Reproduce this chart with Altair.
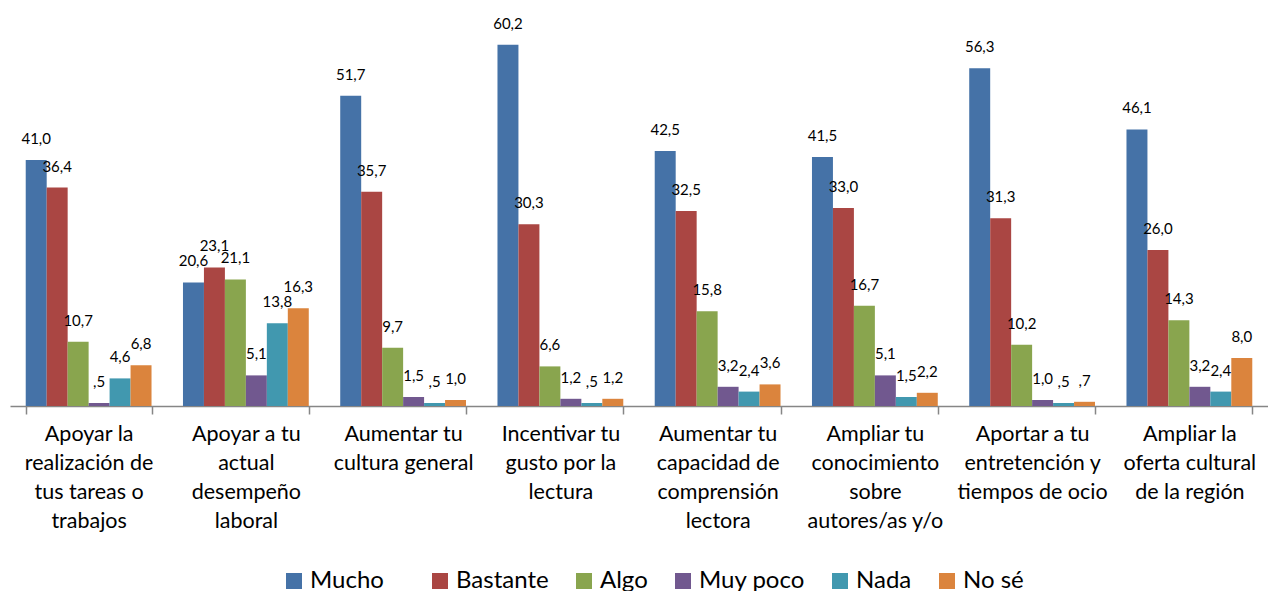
import altair as alt
import pandas as pd

categories = [
    "Apoyar la\nrealización de\ntus tareas o\ntrabajos",
    "Apoyar a tu\nactual\ndesempeño\nlaboral",
    "Aumentar tu\ncultura general",
    "Incentivar tu\ngusto por la\nlectura",
    "Aumentar tu\ncapacidad de\ncomprensión\nlectora",
    "Ampliar tu\nconocimiento\nsobre\nautores/as y/o",
    "Aportar a tu\nentretención y\ntiempos de ocio",
    "Ampliar la\noferta cultural\nde la región",
]
series = ["Mucho", "Bastante", "Algo", "Muy poco", "Nada", "No sé"]
colors = ["#4572A7", "#AA4643", "#89A54E", "#71588F", "#4198AF", "#DB843D"]

mucho = [41.0, 20.6, 51.7, 60.2, 42.5, 41.5, 56.3, 46.1]
bastante = [36.4, 23.1, 35.7, 30.3, 32.5, 33.0, 31.3, 26.0]
algo = [10.7, 21.1, 9.7, 6.6, 15.8, 16.7, 10.2, 14.3]
muy_poco = [0.5, 5.1, 1.5, 1.2, 3.2, 5.1, 1.0, 3.2]
nada = [4.6, 13.8, 0.5, 0.5, 2.4, 1.5, 0.5, 2.4]
no_se = [6.8, 16.3, 1.0, 1.2, 3.6, 2.2, 0.7, 8.0]

values = [mucho, bastante, algo, muy_poco, nada, no_se]


def fmt(v):
    s = f"{v:.1f}".replace(".", ",")
    if s.startswith("0,"):
        s = s[1:]
    return s


rows = []
for s, vals in zip(series, values):
    for c, v in zip(categories, vals):
        rows.append({"cat": c, "serie": s, "valor": v, "label": fmt(v)})
df = pd.DataFrame(rows)

FONT = "Lato"

x = alt.X(
    "cat:N",
    sort=categories,
    scale=alt.Scale(paddingInner=0.2, paddingOuter=0.1),
    axis=alt.Axis(
        title=None,
        labelAngle=0,
        labelExpr="split(datum.label, '\\n')",
        labelFont=FONT,
        labelFontSize=21.5,
        labelLineHeight=29,
        labelColor="#000000",
        labelPadding=9,
        labelBaseline="top",
        tickBand="extent",
        tickSize=8,
        tickColor="#868686",
        tickWidth=1.5,
        domainColor="#868686",
        domainWidth=1.5,
        grid=False,
    ),
)
xo = alt.XOffset("serie:N", sort=series, scale=alt.Scale(paddingInner=0, paddingOuter=0))
y = alt.Y("valor:Q", scale=alt.Scale(domain=[0, 66], nice=False), axis=None)

bars = alt.Chart(df).mark_bar().encode(
    x=x,
    xOffset=xo,
    y=y,
    color=alt.Color(
        "serie:N",
        sort=series,
        scale=alt.Scale(domain=series, range=colors),
        legend=alt.Legend(
            title=None,
            orient="none",
            direction="horizontal",
            legendX=272,
            legendY=559,
            symbolType="square",
            symbolSize=256,
            symbolStrokeWidth=0,
            labelFont=FONT,
            labelFontSize=24,
            labelColor="#000000",
            columnPadding=23,
            labelOffset=4,
            labelExpr="datum.label == 'Mucho' ? 'Mucho\u2003\u2009\u200b' : datum.label",
        ),
    ),
)

labels = alt.Chart(df).mark_text(
    font=FONT, fontSize=15, color="#000000", baseline="middle", dy=-21
).encode(x=x, xOffset=xo, y=y, text="label:N")

chart = (
    alt.layer(bars, labels)
    .properties(
        width=1258,
        height=396,
        autosize=alt.AutoSizeParams(type="none"),
        padding={"left": 2, "top": 2, "right": 0, "bottom": 188},
    )
    .configure_view(stroke=None)
)

chart.save("out.html", embed_options={"renderer": "svg", "actions": False})
